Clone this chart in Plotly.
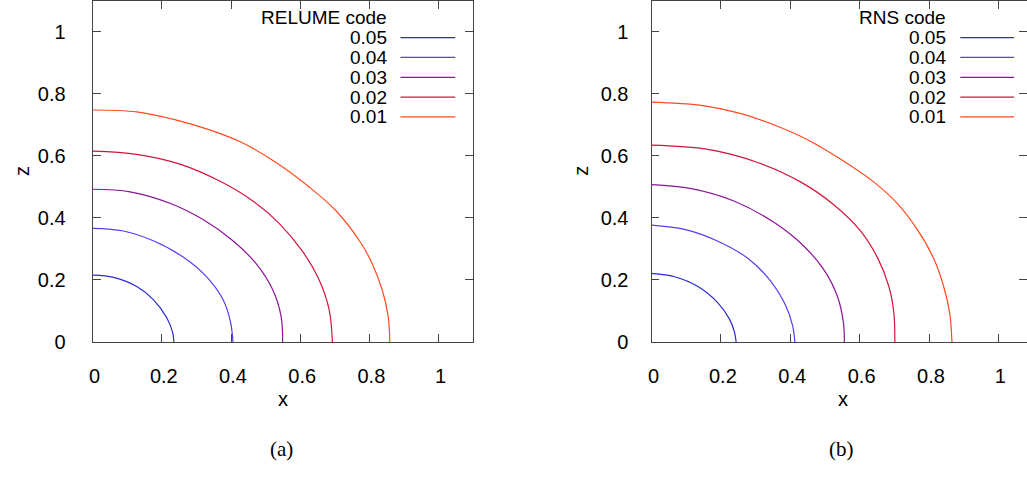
import plotly.graph_objects as go

W, H = 1027, 479

labels = ["0.05", "0.04", "0.03", "0.02", "0.01"]
colors = ["#2a2ad2", "#5a3cf0", "#8c1496", "#d2143c", "#ff4a1e"]

# RELUME code (panel a)
relume_x = {
    "0.05": [0.0, 0.0604, 0.1275, 0.1754, 0.2138, 0.2310, 0.2349],
    "0.04": [0.0, 0.0892, 0.1754, 0.2617, 0.3288, 0.3768, 0.3988, 0.4055],
    "0.03": [0.0, 0.1083, 0.2234, 0.3192, 0.4055, 0.4726, 0.5206, 0.5445, 0.5493],
    "0.02": [0.0, 0.1275, 0.2521, 0.3672, 0.463, 0.5397, 0.6068, 0.6548, 0.6835, 0.6931],
    "0.01": [0.0, 0.1275, 0.2425, 0.3384, 0.4343, 0.5301, 0.626, 0.7027, 0.7746, 0.8082,
             0.8369, 0.8542, 0.859],
}
relume_z = {
    "0.05": [0.2158, 0.2084, 0.1789, 0.1368, 0.0789, 0.0316, 0.0],
    "0.04": [0.3663, 0.3579, 0.3263, 0.2737, 0.2105, 0.1368, 0.0632, 0.0],
    "0.03": [0.4926, 0.4842, 0.4473, 0.3947, 0.3263, 0.2526, 0.1684, 0.0842, 0.0],
    "0.02": [0.6157, 0.6052, 0.5736, 0.519, 0.4550, 0.3820, 0.2920, 0.2, 0.1053, 0.0],
    "0.01": [0.7483, 0.742, 0.7157, 0.6841, 0.642, 0.5789, 0.4999, 0.424, 0.321, 0.2526,
             0.1684, 0.0842, 0.0],
}

# RNS code (panel b)
rns_x = {
    "0.05": [0.0, 0.067, 0.134, 0.1914, 0.2249, 0.2393, 0.244],
    "0.04": [0.0, 0.0957, 0.1914, 0.2775, 0.3445, 0.3876, 0.4067, 0.4134],
    "0.03": [0.0, 0.1148, 0.2393, 0.3541, 0.4402, 0.4977, 0.5359, 0.5532, 0.556],
    "0.02": [0.0, 0.1627, 0.3062, 0.4307, 0.5264, 0.6029, 0.6508, 0.6843, 0.6986, 0.7015],
    "0.01": [0.0, 0.1436, 0.2584, 0.3541, 0.4498, 0.5455, 0.6412, 0.7082, 0.7656, 0.8135,
             0.8422, 0.8594, 0.8661],
}
rns_z = {
    "0.05": [0.221, 0.2105, 0.1789, 0.1263, 0.0737, 0.0316, 0.0],
    "0.04": [0.3768, 0.3631, 0.325, 0.2700, 0.1950, 0.1158, 0.0526, 0.0],
    "0.03": [0.5073, 0.4947, 0.4540, 0.3850, 0.3080, 0.2316, 0.1474, 0.0632, 0.0],
    "0.02": [0.6347, 0.621, 0.5789, 0.5157, 0.442, 0.3579, 0.2737, 0.1789, 0.0947, 0.0],
    "0.01": [0.7736, 0.7631, 0.7368, 0.6999, 0.6526, 0.5894, 0.5157, 0.4473, 0.3640, 0.2690,
             0.1789, 0.0947, 0.0],
}

ticks = [0, 0.2, 0.4, 0.6, 0.8, 1]
tick_text = ["0", "0.2", "0.4", "0.6", "0.8", "1"]

FONT = "Liberation Sans, Arial, sans-serif"
SERIF = "Liberation Serif, Times New Roman, serif"
AX = "#444444"
FS = 20
KEY_FS = 19

fig = go.Figure()
for lab, col in zip(labels, colors):
    fig.add_trace(go.Scatter(x=relume_x[lab], y=relume_z[lab], mode="lines",
                             line=dict(color=col, width=1.2, shape="spline", smoothing=1.0),
                             showlegend=False, xaxis="x", yaxis="y"))
    fig.add_trace(go.Scatter(x=rns_x[lab], y=rns_z[lab], mode="lines",
                             line=dict(color=col, width=1.2, shape="spline", smoothing=1.0),
                             showlegend=False, xaxis="x2", yaxis="y2"))

ytop = 1 - 1 / H
ybot = 1 - 350 / H

common_x = dict(tickvals=ticks, ticktext=tick_text, ticks="inside", ticklen=8,
                tickcolor=AX, showgrid=False, zeroline=False,
                tickfont=dict(family=FONT, size=FS, color="black"),
                ticklabelstandoff=16, ticklabelshift=2, fixedrange=True)
common_y = dict(tickvals=ticks, ticktext=tick_text, ticks="inside", ticklen=8,
                tickcolor=AX, showgrid=False, zeroline=False, range=[0, 1.1],
                tickfont=dict(family=FONT, size=FS, color="black"),
                ticklabelstandoff=22, fixedrange=True)

fig.update_layout(
    width=W, height=H,
    margin=dict(l=0, r=0, t=0, b=0),
    paper_bgcolor="white", plot_bgcolor="white",
    showlegend=False,
    xaxis=dict(domain=[89 / W, 471 / W], range=[0, 1.1], anchor="y",
               showline=True, linecolor=AX, linewidth=1, mirror="ticks", **common_x),
    yaxis=dict(domain=[ybot, ytop], anchor="x",
               showline=True, linecolor=AX, linewidth=1, mirror="ticks", **common_y),
    xaxis2=dict(domain=[650 / W, 1.0], range=[0, (1027 - 650) / 348.3], anchor="y2",
                showline=True, linecolor=AX, linewidth=1, mirror="ticks", **common_x),
    yaxis2=dict(domain=[ybot, ytop], anchor="x2",
                showline=False, mirror="ticks", **common_y),
)
fig.layout.xaxis2.zeroline = True
fig.layout.xaxis2.zerolinecolor = AX
fig.layout.xaxis2.zerolinewidth = 1

ann = []
for xc in (280, 842):
    ann.append(dict(text="x", x=xc / W, y=1 - 408 / H, xref="paper", yref="paper",
                    showarrow=False, xanchor="center", yanchor="middle",
                    font=dict(family=FONT, size=FS, color="black")))
for xc in (18, 579):
    ann.append(dict(text="z", x=xc / W, y=1 - 175 / H, xref="paper", yref="paper",
                    showarrow=False, xanchor="center", yanchor="middle", textangle=-90,
                    font=dict(family=FONT, size=FS, color="black")))
for cap, xc in (("(a)", 279), ("(b)", 841)):
    ann.append(dict(text=cap, x=xc / W, y=1 - 460 / H, xref="paper", yref="paper",
                    showarrow=False, xanchor="center", yanchor="middle",
                    font=dict(family=SERIF, size=21, color="black")))

shapes = []
for title, text_right, line_x0, line_x1 in [("RELUME code", 386, 398, 453),
                                            ("RNS code", 947, 960, 1014)]:
    ann.append(dict(text=title, x=text_right / W, y=1 - 18 / H, xref="paper", yref="paper",
                    showarrow=False, xanchor="right", yanchor="middle", borderpad=0,
                    font=dict(family=FONT, size=KEY_FS, color="black")))
    for i, (lab, col) in enumerate(zip(labels, colors)):
        yy = 38.5 + 20.3 * i
        ann.append(dict(text=lab, x=text_right / W, y=1 - yy / H, xref="paper", yref="paper",
                        showarrow=False, xanchor="right", yanchor="middle", borderpad=0,
                        font=dict(family=FONT, size=KEY_FS, color="black")))
        shapes.append(dict(type="line", xref="paper", yref="paper",
                           x0=line_x0 / W, x1=line_x1 / W, y0=1 - yy / H, y1=1 - yy / H,
                           line=dict(color=col, width=1.3)))

fig.update_layout(annotations=ann, shapes=shapes)
fig.write_html("out.html")
